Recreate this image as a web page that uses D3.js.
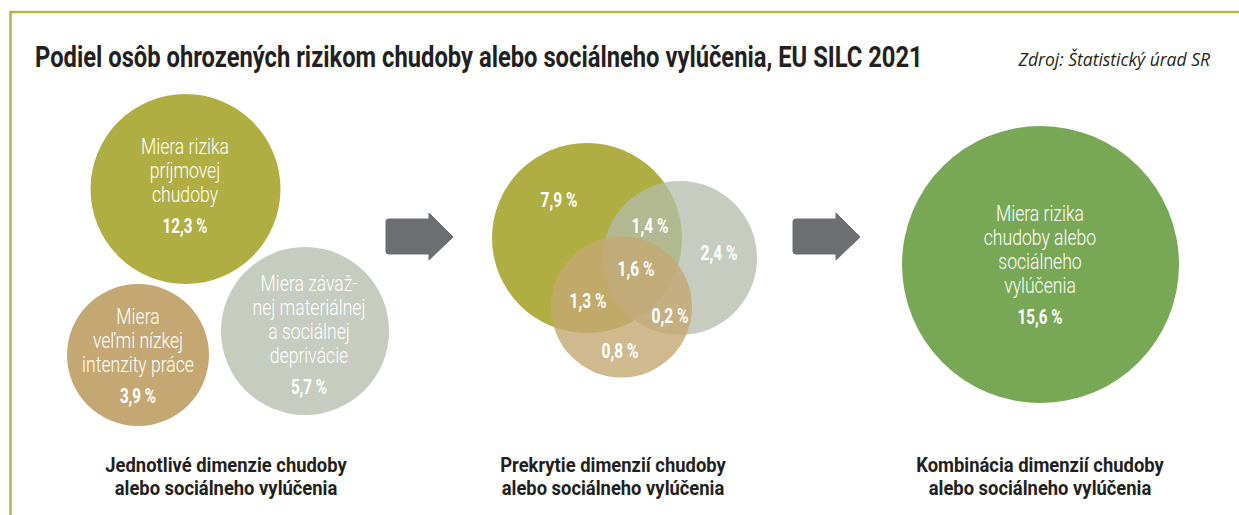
<!DOCTYPE html>
<html>
<head>
<meta charset="utf-8">
<script src="https://cdn.jsdelivr.net/npm/d3@7"></script>
<style>
  html, body { margin: 0; padding: 0; background: #fff; }
  svg { display: block; }
</style>
</head>
<body>
<div id="chart"></div>
<script>
// chart values
var titleText = "Podiel osôb ohrozených rizikom chudoby alebo sociálneho vylúčenia, EU SILC 2021";
var sourceText = "Zdroj: Štatistický úrad SR";

var singleNames = [
    ["Miera rizika", "príjmovej", "chudoby"],
    ["Miera", "veľmi nízkej", "intenzity práce"],
    ["Miera závaž-", "nej materiálnej", "a sociálnej", "deprivácie"]
];
var singleValues = [12.3, 3.9, 5.7];

var vennKeys = ["onlyIncome", "incomeDepr", "onlyDepr", "all", "incomeWork", "workDepr", "onlyWork"];
var vennValues = [7.9, 1.4, 2.4, 1.6, 1.3, 0.2, 0.8];

var totalName = ["Miera rizika", "chudoby alebo", "sociálneho", "vylúčenia"];
var totalValue = 15.6;

var panelCaptions = [
    ["Jednotlivé dimenzie chudoby", "alebo sociálneho vylúčenia"],
    ["Prekrytie dimenzií chudoby", "alebo sociálneho vylúčenia"],
    ["Kombinácia dimenzií chudoby", "alebo sociálneho vylúčenia"]
];

// layout
var width = 1239;
var height = 515;
var colors = {
    income: "#b0ae42",
    work: "#c4a773",
    depr: "#c6ccbf",
    total: "#78a855",
    arrow: "#6d6e71",
    border: "#b5b24a",
    text: "#231f20"
};

var skSK = d3.formatLocale({decimal: ",", thousands: " ", grouping: [3], currency: ["", " €"]});
var fmt = function(v){ return skSK.format(".1f")(v) + " %"; };

var lineStep = 24;
var valueGap = 31;

var svg = d3.select("#chart").append("svg")
    .attr("width", width)
    .attr("height", height);

// frame
svg.append("rect")
    .attr("x", 10.5).attr("y", 12)
    .attr("width", width + 20).attr("height", height + 20)
    .attr("fill", "none")
    .attr("stroke", colors.border)
    .attr("stroke-width", 2.5);

// title, squeezed to the width it has in the original
var titleG = svg.append("g");
var title = titleG.append("text")
    .attr("font-family", "Roboto, 'Liberation Sans', sans-serif")
    .attr("font-weight", 700)
    .attr("font-size", 29)
    .attr("fill", colors.text)
    .text(titleText);
var titleW = title.node().getComputedTextLength();
titleG.attr("transform", "translate(35,67) scale(" + (888 / titleW) + ",1)");

svg.append("text")
    .attr("x", 1210).attr("y", 66)
    .attr("text-anchor", "end")
    .attr("font-family", "'Open Sans', 'Noto Sans', sans-serif")
    .attr("font-style", "italic")
    .attr("font-size", 17.5)
    .attr("fill", colors.text)
    .text(sourceText);

function labelBlock(parent, x, y, lines, value){
    let g = parent.append("g")
        .attr("transform", "translate(" + x + "," + y + ") scale(0.8,1)")
        .attr("text-anchor", "middle")
        .attr("fill", "#fff")
        .attr("font-family", "Roboto, sans-serif");
    g.selectAll("text.line")
        .data(lines)
        .enter()
        .append("text")
        .attr("class", "line")
        .attr("y", function(d, i){ return i * lineStep; })
        .attr("font-size", 22)
        .attr("font-weight", 300)
        .text(function(d){ return d; });
    g.append("text")
        .attr("y", (lines.length - 1) * lineStep + valueGap)
        .attr("font-size", 20)
        .attr("font-weight", 700)
        .attr("transform", "scale(0.95,1)")
        .text(fmt(value));
}

// panel 1 - single dimensions
var singleLayout = [
    {cx: 185.5, cy: 189, r: 95, tx: 185, ty: 154, fill: colors.income},
    {cx: 138, cy: 355, r: 71, tx: 138, ty: 324, fill: colors.work},
    {cx: 305, cy: 331, r: 84, tx: 309, ty: 291, fill: colors.depr}
];

var p1 = svg.append("g").attr("class", "singles");
p1.selectAll("circle")
    .data(singleValues)
    .enter()
    .append("circle")
    .attr("cx", function(d, i){ return singleLayout[i].cx; })
    .attr("cy", function(d, i){ return singleLayout[i].cy; })
    .attr("r", function(d, i){ return singleLayout[i].r; })
    .attr("fill", function(d, i){ return singleLayout[i].fill; });

singleValues.forEach(function(v, i){
    labelBlock(p1, singleLayout[i].tx, singleLayout[i].ty, singleNames[i], v);
});

// panel 2 - venn overlap
var vennCircles = [
    {cx: 587, cy: 238, r: 95, fill: colors.income, op: 1},
    {cx: 680, cy: 258, r: 77, fill: "#b3bbaa", op: 0.75},
    {cx: 621.5, cy: 307, r: 70.5, fill: colors.work, op: 0.8}
];
var vennPos = {
    onlyIncome: [559, 207],
    incomeDepr: [650, 233],
    onlyDepr: [719, 260],
    all: [636, 276],
    incomeWork: [588, 308],
    workDepr: [670, 323],
    onlyWork: [620, 358]
};

var p2 = svg.append("g").attr("class", "venn");
p2.selectAll("circle")
    .data(vennCircles)
    .enter()
    .append("circle")
    .attr("cx", function(d){ return d.cx; })
    .attr("cy", function(d){ return d.cy; })
    .attr("r", function(d){ return d.r; })
    .attr("fill", function(d){ return d.fill; })
    .attr("fill-opacity", function(d){ return d.op; });

p2.selectAll("text")
    .data(vennValues)
    .enter()
    .append("text")
    .attr("transform", function(d, i){
        let p = vennPos[vennKeys[i]];
        return "translate(" + p[0] + "," + p[1] + ") scale(0.76,1)";
    })
    .attr("text-anchor", "middle")
    .attr("fill", "#fff")
    .attr("font-family", "Roboto, sans-serif")
    .attr("font-weight", 700)
    .attr("font-size", 20.5)
    .text(function(d){ return fmt(d); });

// panel 3 - combined
var p3 = svg.append("g").attr("class", "total");
p3.append("circle")
    .datum(totalValue)
    .attr("cx", 1040.5)
    .attr("cy", 264.5)
    .attr("r", 138.5)
    .attr("fill", colors.total);
labelBlock(p3, 1040, 221, totalName, totalValue);

// arrows
function arrowPath(x, y){
    let p = d3.path();
    let r = 2.5;
    p.moveTo(x + r, y + 6);
    p.lineTo(x + 43, y + 6);
    p.lineTo(x + 43, y);
    p.lineTo(x + 67, y + 24);
    p.lineTo(x + 43, y + 47);
    p.lineTo(x + 43, y + 41);
    p.lineTo(x + r, y + 41);
    p.quadraticCurveTo(x, y + 41, x, y + 41 - r);
    p.lineTo(x, y + 6 + r);
    p.quadraticCurveTo(x, y + 6, x + r, y + 6);
    p.closePath();
    return p.toString();
}
svg.selectAll("path.arrow")
    .data([[386, 213], [793, 213]])
    .enter()
    .append("path")
    .attr("class", "arrow")
    .attr("d", function(d){ return arrowPath(d[0], d[1]); })
    .attr("fill", colors.arrow)
    .attr("stroke", colors.arrow)
    .attr("stroke-linejoin", "round")
    .attr("stroke-width", 1);

// captions
var captionX = [226, 613, 1040];
var caps = svg.selectAll("g.caption")
    .data(panelCaptions)
    .enter()
    .append("g")
    .attr("class", "caption")
    .attr("transform", function(d, i){ return "translate(" + captionX[i] + ",472) scale(0.92,1)"; });
caps.selectAll("text")
    .data(function(d){ return d; })
    .enter()
    .append("text")
    .attr("y", function(d, i){ return i * 23; })
    .attr("text-anchor", "middle")
    .attr("font-family", "Roboto, sans-serif")
    .attr("font-weight", 700)
    .attr("font-size", 20)
    .attr("fill", colors.text)
    .text(function(d){ return d; });
</script>
</body>
</html>
